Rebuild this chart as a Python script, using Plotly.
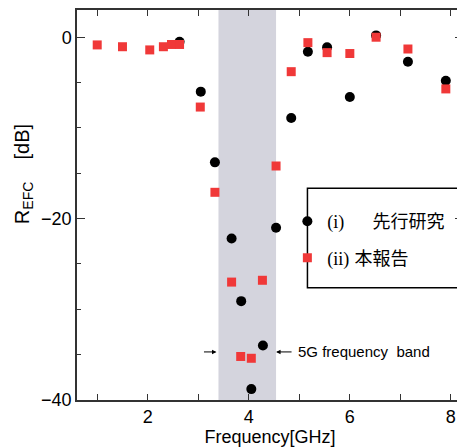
import plotly.graph_objects as go

# ---- data ----
freq_prev = [2.63, 3.05, 3.33, 3.66, 3.85, 4.05, 4.28, 4.54, 4.84, 5.17, 5.55, 6.00, 6.52, 7.15, 7.90]
refc_prev = [-0.5, -6.0, -13.8, -22.2, -29.1, -38.8, -34.0, -21.0, -8.9, -1.6, -1.1, -6.6, 0.2, -2.7, -4.8]

freq_this = [1.00, 1.50, 2.04, 2.31, 2.47, 2.63, 3.04, 3.33, 3.66, 3.84, 4.05, 4.27, 4.54, 4.84, 5.17, 5.55, 6.00, 6.52, 7.15, 7.90]
refc_this = [-0.85, -1.05, -1.4, -1.05, -0.8, -0.8, -7.7, -17.1, -27.0, -35.2, -35.4, -26.8, -14.2, -3.8, -0.6, -1.7, -1.8, 0.0, -1.3, -5.7]

band_5g = [3.40, 4.54]
band_label_y = -34.7

name_prev = '<span style="font-family:Liberation Serif">(i)</span>\u3000  <span style="font-family:Noto Sans CJK JP">先行研究</span>'
name_this = '<span style="font-family:Liberation Serif">(ii)</span> <span style="font-family:Noto Sans CJK JP">本報告</span>'

fig = go.Figure()
fig.add_trace(go.Scatter(x=freq_prev, y=refc_prev, mode="markers", name=name_prev,
                         legendgroup="a",
                         marker=dict(symbol="circle", size=10, color="black")))
fig.add_trace(go.Scatter(x=freq_this, y=refc_this, mode="markers", name=name_this,
                         legendgroup="b",
                         marker=dict(symbol="square", size=9, color="#F03838")))

fig.add_vrect(x0=band_5g[0], x1=band_5g[1], fillcolor="#D4D4DD", line_width=0, layer="below", opacity=1)

# legend box
fig.add_shape(type="rect", xref="paper", yref="paper", x0=0.597, x1=0.990, y0=0.288, y1=0.543,
              line=dict(color="black", width=1.5), fillcolor="rgba(0,0,0,0)")

# band arrows and label
fig.add_annotation(x=band_5g[0], y=band_label_y, xref="x", yref="y", text="", showarrow=True,
                   ax=-16, ay=0, axref="pixel", ayref="pixel", arrowhead=2, arrowsize=0.9,
                   arrowwidth=1, arrowcolor="black", standoff=2)
fig.add_annotation(x=band_5g[1], y=band_label_y, xref="x", yref="y", text="", showarrow=True,
                   ax=17, ay=0, axref="pixel", ayref="pixel", arrowhead=2, arrowsize=0.9,
                   arrowwidth=1, arrowcolor="black", standoff=0)
fig.add_annotation(x=band_5g[1], y=band_label_y, xref="x", yref="y", text="5G frequency  band",
                   showarrow=False, xanchor="left", xshift=20, font=dict(size=15, color="black"))

# y-axis title (placed as annotation to match reference position)
fig.add_annotation(xref="paper", yref="paper", x=-0.14, y=0.579, text="R<sub>EFC</sub>    [dB]",
                   textangle=-90, showarrow=False, xanchor="center", yanchor="middle",
                   font=dict(size=20, color="black"))

axis_common = dict(showline=True, linecolor="#333333", linewidth=1.5, mirror="ticks",
                   ticks="inside", tickcolor="#333333", showgrid=False, zeroline=False,
                   tickfont=dict(size=18, color="black"))

fig.update_xaxes(range=[0.6, 8.24], tickvals=[2, 4, 6, 8], ticklen=6, tickwidth=1.2,
                 minor=dict(tickvals=[1, 3, 5, 7], ticks="inside", ticklen=6, tickcolor="#333333", tickwidth=1.2),
                 title=dict(text="Frequency[GHz]", font=dict(size=18, color="black"), standoff=4),
                 **axis_common)
fig.update_yaxes(range=[-40, 3.0], tickvals=[0, -20, -40], ticklen=8, tickwidth=1.2,
                 minor=dict(dtick=5, tick0=0, ticks="inside", ticklen=4, tickcolor="#333333", tickwidth=1.2),
                 **axis_common)

fig.update_layout(
    width=457, height=440,
    margin=dict(l=69, r=1, t=0, b=48),
    paper_bgcolor="white", plot_bgcolor="white",
    font=dict(family="Liberation Sans, Arial, sans-serif", color="black"),
    showlegend=True,
    legend=dict(x=0.545, y=0.505, xanchor="left", yanchor="top", bgcolor="rgba(0,0,0,0)",
                borderwidth=0, font=dict(size=18, color="black"),
                traceorder="grouped", tracegroupgap=10, itemwidth=30),
)

fig.write_html("out.html")
